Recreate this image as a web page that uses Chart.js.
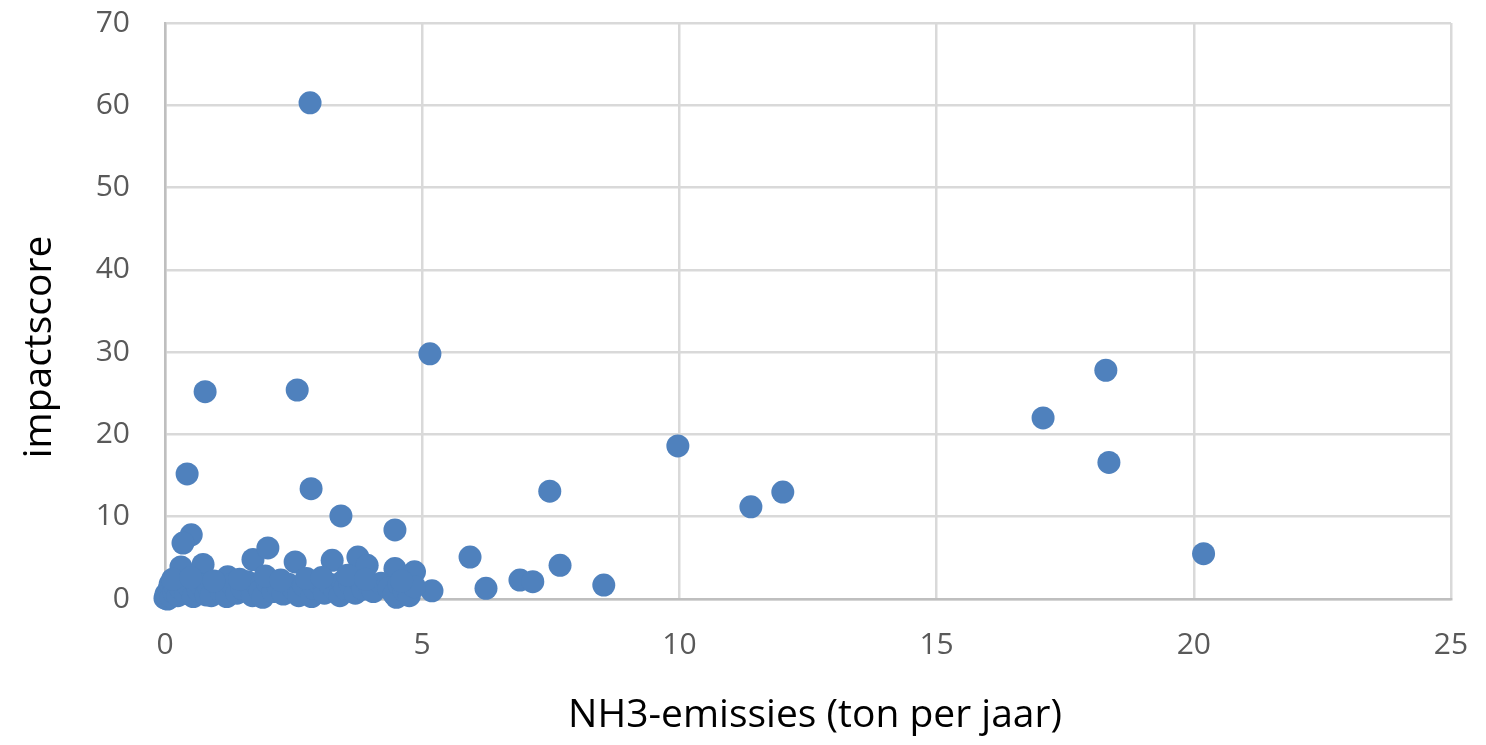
<!DOCTYPE html>
<html>
<head>
<meta charset="utf-8">
<script src="https://cdn.jsdelivr.net/npm/chart.js@4"></script>
<style>
html,body{margin:0;padding:0;background:#fff;}
#wrap{width:1486px;height:745px;position:relative;}
</style>
</head>
<body>
<div id="wrap"><canvas id="c" width="1486" height="745"></canvas></div>
<script>
const xTitle = "NH3-emissies (ton per jaar)";
const yTitle = "impactscore";
const xTicks = [0, 5, 10, 15, 20, 25];
const yTicks = [0, 10, 20, 30, 40, 50, 60, 70];

const emissions = [
  2.82, 5.15, 0.78, 2.57, 18.29, 17.07, 18.35, 9.97, 0.43, 2.84, 7.48, 12.01, 11.39, 3.42, 4.47, 20.19, 0.51, 0.35, 5.93, 7.68, 6.24, 6.90, 7.15, 8.53, 5.19,
  0.31, 0.74, 1.22, 1.71, 2.00, 2.53, 3.25, 3.75, 3.93, 4.47, 4.85, 4.50,
  0.00, 0.02, 0.05, 0.08, 0.10, 0.12, 0.15, 0.18, 0.20, 0.25, 0.30, 0.35, 0.40, 0.45, 0.55, 0.60, 0.65, 0.70, 0.80, 0.85, 0.90,
  1.00, 1.10, 1.20, 1.30, 1.40, 1.50, 1.60, 1.70, 1.80, 1.85, 1.90, 2.00, 2.10, 2.20, 2.30, 2.40, 2.50, 2.60, 2.70, 2.85, 2.90,
  3.00, 3.10, 3.20, 3.30, 3.40, 3.45, 3.50, 3.60, 3.70, 3.80, 3.85, 3.95, 4.05, 4.20, 4.35, 4.45, 4.55, 4.65, 4.75, 4.85,
  0.15, 0.50, 0.95, 1.45, 1.95, 2.25, 2.75, 3.05, 3.55, 3.90, 4.60
];
const impact = [
  60.3, 29.8, 25.2, 25.4, 27.8, 22.0, 16.6, 18.6, 15.2, 13.4, 13.1, 13.0, 11.2, 10.1, 8.4, 5.5, 7.8, 6.8, 5.1, 4.1, 1.3, 2.3, 2.1, 1.7, 1.0,
  3.9, 4.2, 2.7, 4.8, 6.2, 4.5, 4.7, 5.1, 4.1, 3.7, 3.3, 0.2,
  0.1, 0.6, 0.0, 1.2, 1.8, 0.3, 2.0, 0.8, 1.5, 0.4, 1.3, 1.9, 0.7, 1.6, 0.3, 2.0, 1.0, 1.7, 0.5, 1.4, 0.4,
  1.9, 0.8, 0.3, 1.8, 0.7, 1.3, 2.1, 0.4, 1.6, 1.0, 0.2, 1.9, 0.9, 1.5, 0.6, 1.8, 1.2, 0.4, 1.6, 0.3, 1.3,
  1.9, 0.7, 1.8, 1.2, 0.4, 2.1, 1.3, 1.8, 0.7, 2.0, 1.2, 1.8, 0.9, 1.9, 1.3, 0.6, 1.8, 1.0, 0.4, 1.5,
  2.4, 2.6, 2.2, 2.4, 2.8, 2.3, 2.5, 2.6, 2.9, 2.4, 2.2
];

const points = emissions.map((x, i) => ({x: x, y: impact[i]}));
const FONT = "'Open Sans', sans-serif";

const titlePlugin = {
  id: 'axisTitles',
  afterDraw(chart) {
    const ctx = chart.ctx;
    ctx.save();
    ctx.fillStyle = '#000';
    ctx.font = '39px ' + FONT;
    ctx.textAlign = 'center';
    ctx.textBaseline = 'middle';
    ctx.fillText(xTitle, 815, 716);
    ctx.translate(40, 347);
    ctx.rotate(-Math.PI / 2);
    ctx.fillText(yTitle, 0, 0);
    ctx.restore();
  }
};

new Chart(document.getElementById('c'), {
  type: 'scatter',
  data: {
    datasets: [{
      data: points,
      backgroundColor: '#4f81bd',
      borderWidth: 0,
      pointRadius: 11.5,
      pointHoverRadius: 11.5,
      clip: false
    }]
  },
  options: {
    responsive: false,
    animation: false,
    devicePixelRatio: 1,
    layout: {padding: {left: 0, right: 35, top: 23, bottom: 0}},
    plugins: {legend: {display: false}, tooltip: {enabled: false}},
    scales: {
      x: {
        type: 'linear', min: 0, max: 25,
        afterBuildTicks: s => { s.ticks = xTicks.map(v => ({value: v})); },
        afterFit: s => { s.height = 146; s.paddingLeft = 0; s.paddingRight = 0; },
        grid: {color: '#d9d9d9', lineWidth: 2.5, drawTicks: false},
        border: {color: '#bfbfbf', width: 2.5},
        ticks: {color: '#595959', font: {family: FONT, size: 30}, padding: 28, maxRotation: 0}
      },
      y: {
        type: 'linear', min: 0, max: 70,
        afterBuildTicks: s => { s.ticks = yTicks.map(v => ({value: v})); },
        afterFit: s => { s.width = 165; s.paddingTop = 0; s.paddingBottom = 0; },
        grid: {color: '#d9d9d9', lineWidth: 2.5, drawTicks: false},
        border: {color: '#bfbfbf', width: 2.5},
        ticks: {color: '#595959', font: {family: FONT, size: 30}, padding: 35}
      }
    }
  },
  plugins: [titlePlugin]
});
</script>
</body>
</html>
